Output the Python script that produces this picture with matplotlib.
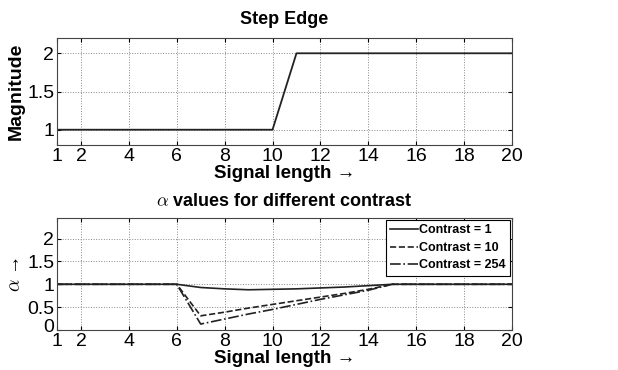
import numpy as np
import matplotlib
matplotlib.use("Agg")
import matplotlib.pyplot as plt
import matplotlib.transforms as mtransforms

plt.rcParams['font.family'] = ['Liberation Sans', 'DejaVu Sans']
plt.rcParams['mathtext.fontset'] = 'cm'

#
# Data
#
signal_x = [1, 2, 3, 4, 5, 6, 7, 8, 9, 10, 11, 12, 13, 14, 15, 16, 17, 18, 19, 20]
step_edge = [1, 1, 1, 1, 1, 1, 1, 1, 1, 1, 2, 2, 2, 2, 2, 2, 2, 2, 2, 2]

alpha_c1 = [1, 1, 1, 1, 1, 1, 0.93, 0.9, 0.88, 0.89, 0.9, 0.92, 0.94, 0.97, 1, 1, 1, 1, 1, 1]
alpha_c10 = [1, 1, 1, 1, 1, 1, 0.31, 0.39, 0.48, 0.56, 0.64, 0.72, 0.8, 0.89, 1, 1, 1, 1, 1, 1]
alpha_c254 = [1, 1, 1, 1, 1, 1, 0.13, 0.24, 0.35, 0.45, 0.56, 0.67, 0.77, 0.87, 1, 1, 1, 1, 1, 1]
contrast_labels = ['Contrast = 1', 'Contrast = 10', 'Contrast = 254']

x_ticks = [1, 2, 4, 6, 8, 10, 12, 14, 16, 18, 20]

fig = plt.figure(figsize=(6.18, 3.70), dpi=100)
ax1 = fig.add_axes([57 / 618, 1 - 145 / 370, 455 / 618, 107 / 370])
ax2 = fig.add_axes([57 / 618, 1 - 330 / 370, 455 / 618, 112 / 370])


def style_axes(ax):
    ax.set_xlim(1, 20)
    ax.set_xticks(x_ticks)
    ax.grid(True, linestyle=':', color='#888888', linewidth=0.7)
    ax.tick_params(direction='in', top=True, right=True, labelsize=14,
                   length=3, pad=2)
    for s in ax.spines.values():
        s.set_color('#444444')
        s.set_linewidth(0.8)
    ax.set_xlabel('Signal length \u2192', fontsize=13.5, fontweight='bold',
                  labelpad=0)


# Top: step edge
ax1.plot(signal_x, step_edge, color='#222222', linewidth=1.3)
style_axes(ax1)
ax1.set_ylim(0.8, 2.2)
ax1.set_yticks([1, 1.5, 2])
ax1.set_yticklabels(['1', '1.5', '2'])
ax1.set_ylabel('Magnitude', fontsize=14, fontweight='bold', labelpad=2)
ax1.set_title('Step Edge', fontsize=13, fontweight='bold', pad=10)

# Bottom: alpha values
ax2.plot(signal_x, alpha_c1, color='#222222', linestyle='-', linewidth=1.2,
         label=contrast_labels[0])
ax2.plot(signal_x, alpha_c10, color='#222222', linestyle='--', linewidth=1.2,
         label=contrast_labels[1])
ax2.plot(signal_x, alpha_c254, color='#222222', linestyle='-.', linewidth=1.2,
         label=contrast_labels[2])
style_axes(ax2)
ax2.set_ylim(0, 2.45)
ax2.set_yticks([0, 0.5, 1, 1.5, 2])
ax2.set_yticklabels(['0', '0.5', '1', '1.5', '2'])
# nudge the "0" up a bit so it clears the x tick "1", like the original
lift = mtransforms.ScaledTranslation(0, 3 / 72, fig.dpi_scale_trans)
zero_lbl = ax2.get_yticklabels()[0]
zero_lbl.set_transform(zero_lbl.get_transform() + lift)
ax2.set_ylabel('$\\alpha$ \u2192', fontsize=14, labelpad=2)
ax2.set_title('$\\alpha$ values for different contrast', fontsize=13,
              fontweight='bold', pad=9)

leg = ax2.legend(loc='upper right', prop={'weight': 'bold', 'size': 9},
                 frameon=True, fancybox=False, borderpad=0.35, labelspacing=0.45,
                 handlelength=2.2, handletextpad=0.1, borderaxespad=0.15)
leg.get_frame().set_edgecolor('black')
leg.get_frame().set_linewidth(0.8)
leg.get_frame().set_alpha(1)

fig.savefig('out.png', dpi=100)
